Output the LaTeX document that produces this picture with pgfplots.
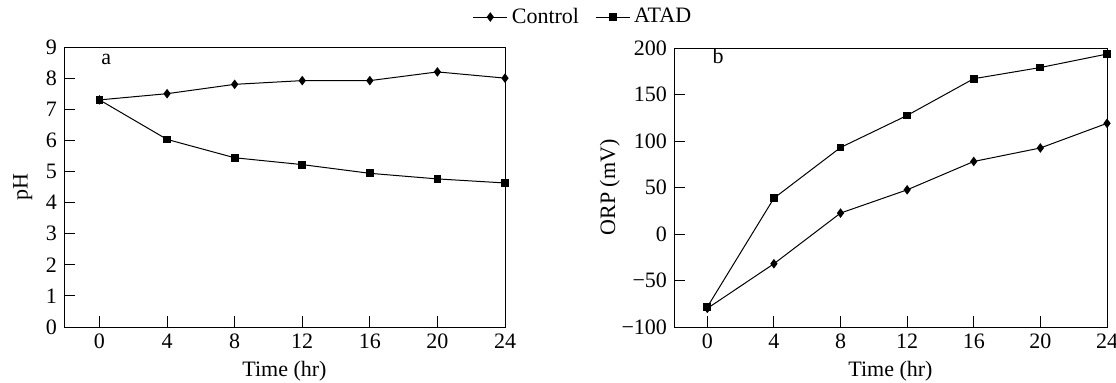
\documentclass[border=0pt]{standalone}
\usepackage{fontspec}
\setmainfont{Liberation Serif}
\usepackage{pgfplots}
\pgfplotsset{compat=1.18}
\begin{document}
\begin{tikzpicture}
\useasboundingbox (0pt,0pt) rectangle (558pt,191pt);
\pgfplotsset{
  every axis/.append style={
    scale only axis,
    axis line style={line width=0.5pt},
    tick style={line width=0.5pt,black},
    tick align=inside,
    xtick pos=left, ytick pos=left,
    major tick length=5.5pt,
    xmin=-2, xmax=24,
    xtick={0,4,8,12,16,20,24},
    xlabel={Time (hr)},
    ticklabel style={font=\fontsize{11pt}{13pt}\selectfont},
    label style={font=\fontsize{11pt}{13pt}\selectfont},
    /pgf/number format/assume math mode=true,
    xlabel style={yshift=0.5pt},
  },
  ctrl/.style={black, line width=0.5pt, mark=diamond*, mark size=2pt, mark options={solid,fill=black}},
  atad/.style={black, line width=0.5pt, mark=square*, mark size=1.7pt, mark options={solid,fill=black}},
}
\begin{axis}[
  at={(32pt,27.5pt)}, anchor=south west,
  width=220.5pt, height=140pt,
  xmin=-2.1,
  ymin=0, ymax=9, ytick={0,1,...,9},
  ylabel={pH},
  legend style={at={(1.179,1.107)}, anchor=center, draw=none, fill=none,
    legend columns=2, font=\fontsize{11pt}{13pt}\selectfont,
    /tikz/every even column/.append style={column sep=6pt}},
]
\addplot[ctrl] coordinates {(0,7.3) (4,7.5) (8,7.8) (12,7.92) (16,7.92) (20,8.2) (24,8.0)};
\addlegendentry{Control}
\addplot[atad] coordinates {(0,7.3) (4,6.03) (8,5.44) (12,5.22) (16,4.94) (20,4.76) (24,4.63)};
\addlegendentry{ATAD}
\node[anchor=center,font=\fontsize{11pt}{13pt}\selectfont] at (axis cs:0.4,8.6) {a};
\end{axis}
\begin{axis}[
  at={(337pt,27.5pt)}, anchor=south west,
  width=216.5pt, height=139.5pt,
  ymin=-100, ymax=200, ytick={-100,-50,0,50,100,150,200},
  yticklabels={−100,−50,0,50,100,150,200},
  ylabel={ORP (mV)},
  ylabel style={yshift=-6pt},
]
\addplot[ctrl] coordinates {(0,-80) (4,-32) (8,22.5) (12,47.5) (16,78) (20,92.5) (24,119)};
\addplot[atad] coordinates {(0,-78.5) (4,38.5) (8,93) (12,127.5) (16,167) (20,179) (24,193.5)};
\node[anchor=center,font=\fontsize{11pt}{13pt}\selectfont] at (axis cs:0.65,191) {b};
\end{axis}
\end{tikzpicture}
\end{document}
